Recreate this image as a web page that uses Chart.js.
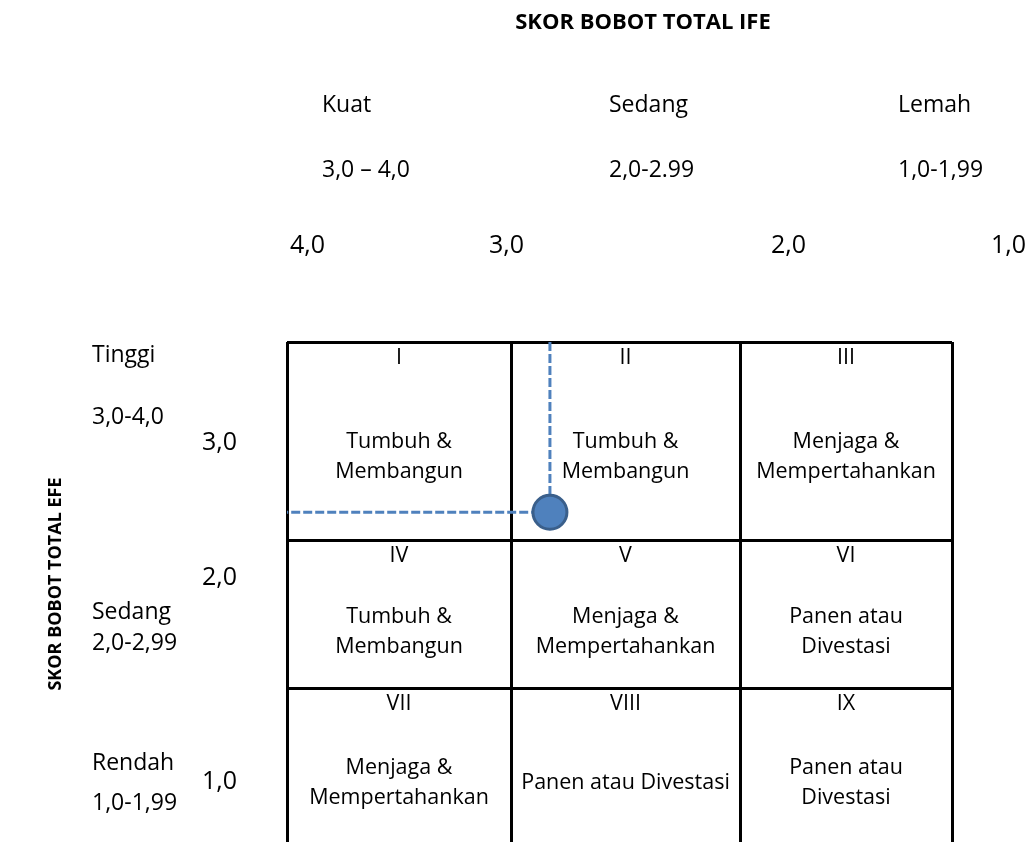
<!DOCTYPE html>
<html>
<head>
<meta charset="utf-8">
<script src="https://cdn.jsdelivr.net/npm/chart.js@4.4.1/dist/chart.umd.min.js"></script>
<style>
  html, body { margin: 0; padding: 0; background: #fff; overflow: hidden; }
  #wrap { position: relative; width: 1028px; height: 880px; }
</style>
</head>
<body>
<div id="wrap"><canvas id="mychart"></canvas></div>
<script>
// data
const ifeEdges = [4, 3, 2, 1];          // skor IFE, kiri ke kanan
const efeEdges = [4, 3, 2, 1];          // skor EFE, atas ke bawah
const ifeScore = 2.83;
const efeScore = 3.14;

const ifeTickLabels = ['4,0', '3,0', '2,0', '1,0'];
const efeTickLabels = ['3,0', '2,0', '1,0'];
const ifeNames = ['Kuat', 'Sedang', 'Lemah'];
const ifeRanges = ['3,0 \u2013 4,0', '2,0-2.99', '1,0-1,99'];
const efeNames = ['Tinggi', 'Sedang', 'Rendah'];
const efeRanges = ['3,0-4,0', '2,0-2,99', '1,0-1,99'];

const cellNumbers = ['I', 'II', 'III', 'IV', 'V', 'VI', 'VII', 'VIII', 'IX'];
const cellLabels = [
  ['Tumbuh &', 'Membangun'], ['Tumbuh &', 'Membangun'], ['Menjaga &', 'Mempertahankan'],
  ['Tumbuh &', 'Membangun'], ['Menjaga &', 'Mempertahankan'], ['Panen atau', 'Divestasi'],
  ['Menjaga &', 'Mempertahankan'], ['Panen atau Divestasi'], ['Panen atau', 'Divestasi']
];

// layout (tabel word tidak rata, jadi tiap pita satuan punya lebar sendiri)
const bandSizes = { x: [212, 229, 224], y: [192, 148, 198] };
const FONT = '"Open Sans", sans-serif';
Chart.defaults.font.family = FONT;

class BandScale extends Chart.LinearScale {
  static id = 'band';
  static defaults = Chart.LinearScale.defaults;
  getPixelForValue(value) {
    if (value === null || value === undefined) return NaN;
    const w = bandSizes[this.id];
    const total = w.reduce((a, b) => a + b, 0);
    let acc = 0;
    for (let i = 0; i < w.length; i++) {
      const lo = this.min + i;
      if (value <= lo + 1 || i === w.length - 1) {
        acc += (value - lo) * w[i];
        break;
      }
      acc += w[i];
    }
    return this.getPixelForDecimal(acc / total);
  }
}
Chart.register(BandScale);

const textPlugin = {
  id: 'ieText',
  beforeDatasetsDraw(chart) {
    const { ctx, scales: { x, y } } = chart;
    ctx.save();
    ctx.fillStyle = '#000';
    ctx.textBaseline = 'middle';

    // isi sel
    const rowText = [115, 92, 95];
    ctx.font = '21.5px ' + FONT;
    ctx.textAlign = 'center';
    for (let r = 0; r < 3; r++) {
      const top = y.getPixelForValue(efeEdges[r]);
      for (let c = 0; c < 3; c++) {
        const cx = (x.getPixelForValue(ifeEdges[c]) + x.getPixelForValue(ifeEdges[c + 1])) / 2;
        const i = r * 3 + c;
        ctx.fillText(cellNumbers[i], cx, top + 16);
        const lines = cellLabels[i];
        const mid = top + rowText[r];
        lines.forEach((t, k) => ctx.fillText(t, cx, mid + (k - (lines.length - 1) / 2) * 30));
      }
    }

    // judul atas
    ctx.font = 'bold 22px ' + FONT;
    ctx.fillText('SKOR BOBOT TOTAL IFE', 643, 23);

    // kategori IFE
    ctx.textAlign = 'left';
    ctx.font = '23px ' + FONT;
    const headX = [322, 609, 898];
    ifeNames.forEach((t, i) => ctx.fillText(t, headX[i], 105));
    ifeRanges.forEach((t, i) => ctx.fillText(t, headX[i], 170));

    ctx.font = '25px ' + FONT;
    const tickX = [290, 489, 771, 991];
    ifeTickLabels.forEach((t, i) => ctx.fillText(t, tickX[i], 246));

    // kategori EFE
    ctx.font = '23px ' + FONT;
    const nameY = [355, 612, 763];
    const rangeY = [417, 643, 803];
    efeNames.forEach((t, i) => ctx.fillText(t, 92, nameY[i]));
    efeRanges.forEach((t, i) => ctx.fillText(t, 92, rangeY[i]));
    ctx.font = '25px ' + FONT;
    const efeTickY = [443, 578, 782];
    efeTickLabels.forEach((t, i) => ctx.fillText(t, 202, efeTickY[i]));

    // judul kiri
    ctx.translate(56, 584);
    ctx.rotate(-Math.PI / 2);
    ctx.textAlign = 'center';
    ctx.font = 'bold 18px ' + FONT;
    ctx.fillText('SKOR BOBOT TOTAL EFE', 0, 0);
    ctx.restore();
  }
};

const canvas = document.getElementById('mychart');

const grafik = new Chart(canvas, {
  type: 'scatter',
  data: {
    datasets: [
      {
        label: 'Posisi',
        data: [{ x: ifeScore, y: efeScore }],
        backgroundColor: '#4f81bd',
        borderColor: '#3a5f8b',
        borderWidth: 3,
        pointRadius: 17,
        order: 0
      },
      {
        label: 'Garis bantu',
        type: 'line',
        data: [{ x: ifeScore, y: efeEdges[0] }, { x: ifeScore, y: efeScore }, { x: ifeEdges[0], y: efeScore }],
        borderColor: '#4f81bd',
        borderWidth: 3,
        borderDash: [9, 3],
        pointRadius: 0,
        fill: false,
        order: 1
      }
    ]
  },
  plugins: [textPlugin],
  options: {
    responsive: true,
    maintainAspectRatio: false,
    animation: false,
    events: [],
    layout: { autoPadding: false, padding: { left: 287, right: 76, top: 342, bottom: 0 } },
    plugins: { legend: { display: false }, tooltip: { enabled: false } },
    scales: {
      x: {
        type: 'band', min: 1, max: 4, reverse: true,
        ticks: { display: false, stepSize: 1 },
        grid: { color: '#000', lineWidth: 3, drawTicks: false },
        border: { display: false }
      },
      y: {
        type: 'band', min: 1, max: 4,
        ticks: { display: false, stepSize: 1 },
        grid: { color: '#000', lineWidth: 3, drawTicks: false },
        border: { display: false }
      }
    }
  }
});
</script>
</body>
</html>
